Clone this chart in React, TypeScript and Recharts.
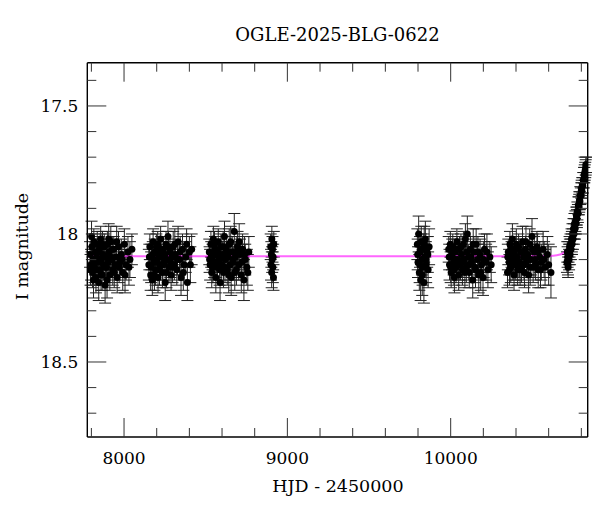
import React from 'react';
import { ComposedChart, Scatter, Line, XAxis, YAxis, ErrorBar } from 'recharts';

// OGLE photometry, one array per observing season: [HJD - 2450000, I mag, error]
const SEASON_2017 = [
  [7792, 18.08, 0.05], [7798, 18.12, 0.06], [7803, 18.05, 0.05], [7807, 18.15, 0.06], [7811, 18.10, 0.05],
  [7815, 18.03, 0.05], [7819, 18.13, 0.06], [7824, 18.07, 0.05], [7828, 18.17, 0.06], [7832, 18.09, 0.05],
  [7836, 18.04, 0.05], [7840, 18.11, 0.06], [7845, 18.19, 0.07], [7849, 18.06, 0.05], [7853, 18.14, 0.06],
  [7857, 18.02, 0.05], [7861, 18.10, 0.05], [7866, 18.16, 0.06], [7870, 18.08, 0.05], [7874, 18.12, 0.06],
  [7879, 18.05, 0.05], [7884, 18.20, 0.07], [7888, 18.09, 0.05], [7893, 18.13, 0.06], [7898, 18.04, 0.05],
  [7903, 18.11, 0.06], [7908, 18.07, 0.05], [7913, 18.16, 0.06], [7919, 18.03, 0.06], [7925, 18.10, 0.05],
  [7931, 18.14, 0.06], [7937, 18.06, 0.05], [7944, 18.12, 0.06], [7951, 18.09, 0.05], [7958, 18.17, 0.06],
  [7966, 18.05, 0.06], [7974, 18.11, 0.06], [7983, 18.08, 0.06], [7992, 18.15, 0.07], [8002, 18.04, 0.06],
  [8012, 18.12, 0.06], [8024, 18.07, 0.06], [8036, 18.10, 0.07], [8048, 18.06, 0.06],
  [7795, 18.14, 0.06], [7801, 18.01, 0.06], [7813, 18.18, 0.07], [7822, 18.11, 0.05], [7834, 18.14, 0.06],
  [7843, 18.07, 0.05], [7851, 18.10, 0.05], [7859, 18.16, 0.06], [7868, 18.04, 0.05], [7877, 18.09, 0.05],
  [7886, 18.13, 0.06], [7896, 18.18, 0.07], [7906, 18.02, 0.06], [7916, 18.09, 0.05], [7928, 18.06, 0.05],
  [7940, 18.15, 0.06], [7955, 18.03, 0.06], [7970, 18.13, 0.06], [7987, 18.10, 0.06], [8006, 18.16, 0.07],
  [8030, 18.13, 0.07],
];

const SEASON_2018 = [
  [8152, 18.12, 0.06], [8158, 18.05, 0.05], [8163, 18.16, 0.06], [8168, 18.09, 0.05], [8173, 18.18, 0.06],
  [8178, 18.03, 0.05], [8183, 18.11, 0.05], [8188, 18.07, 0.05], [8193, 18.14, 0.06], [8198, 18.05, 0.05],
  [8203, 18.10, 0.05], [8208, 18.17, 0.06], [8214, 18.08, 0.05], [8219, 18.12, 0.06], [8224, 18.02, 0.05],
  [8229, 18.09, 0.05], [8235, 18.15, 0.06], [8240, 18.06, 0.05], [8246, 18.11, 0.05], [8252, 18.19, 0.07],
  [8257, 18.04, 0.05], [8263, 18.10, 0.05], [8269, 18.01, 0.06], [8275, 18.13, 0.06], [8281, 18.07, 0.05],
  [8288, 18.16, 0.06], [8294, 18.09, 0.05], [8301, 18.05, 0.06], [8308, 18.12, 0.06], [8315, 18.08, 0.05],
  [8323, 18.14, 0.06], [8331, 18.03, 0.06], [8340, 18.10, 0.06], [8349, 18.17, 0.07], [8358, 18.06, 0.06],
  [8368, 18.12, 0.06], [8378, 18.09, 0.06], [8388, 18.19, 0.07], [8400, 18.07, 0.06], [8414, 18.06, 0.06],
  [8155, 18.09, 0.05], [8166, 18.13, 0.06], [8176, 18.08, 0.05], [8186, 18.16, 0.06], [8196, 18.11, 0.05],
  [8206, 18.04, 0.05], [8217, 18.14, 0.06], [8227, 18.06, 0.05], [8238, 18.12, 0.06], [8249, 18.08, 0.05],
  [8260, 18.15, 0.06], [8272, 18.05, 0.06], [8284, 18.11, 0.06], [8297, 18.13, 0.06], [8311, 18.04, 0.06],
  [8327, 18.10, 0.06], [8344, 18.07, 0.06], [8363, 18.15, 0.07], [8383, 18.04, 0.06], [8406, 18.12, 0.07],
];

const SEASON_2019 = [
  [8522, 18.07, 0.05], [8527, 18.12, 0.06], [8532, 18.04, 0.05], [8537, 18.15, 0.06], [8542, 18.09, 0.05],
  [8547, 18.02, 0.05], [8552, 18.11, 0.06], [8557, 18.06, 0.05], [8562, 18.17, 0.06], [8567, 18.08, 0.05],
  [8572, 18.13, 0.06], [8577, 18.03, 0.05], [8582, 18.10, 0.05], [8588, 18.19, 0.07], [8593, 18.05, 0.05],
  [8598, 18.12, 0.06], [8604, 18.08, 0.05], [8609, 18.15, 0.06], [8615, 18.01, 0.06], [8620, 18.10, 0.05],
  [8626, 18.06, 0.05], [8632, 18.14, 0.06], [8638, 18.09, 0.05], [8644, 18.04, 0.06], [8650, 18.12, 0.06],
  [8656, 18.17, 0.07], [8662, 18.07, 0.06], [8668, 18.11, 0.06], [8675, 17.99, 0.07], [8681, 18.09, 0.06],
  [8688, 18.14, 0.06], [8695, 18.05, 0.06], [8702, 18.12, 0.06], [8710, 18.08, 0.06], [8718, 18.16, 0.07],
  [8726, 18.06, 0.06], [8734, 18.18, 0.08], [8742, 18.10, 0.06], [8752, 18.13, 0.07], [8764, 18.07, 0.06],
  [8524, 18.10, 0.05], [8534, 18.08, 0.05], [8544, 18.13, 0.06], [8554, 18.04, 0.05], [8564, 18.11, 0.06],
  [8574, 18.07, 0.05], [8585, 18.14, 0.06], [8596, 18.09, 0.05], [8607, 18.05, 0.06], [8618, 18.13, 0.06],
  [8629, 18.08, 0.05], [8641, 18.16, 0.07], [8653, 18.03, 0.06], [8665, 18.10, 0.06], [8678, 18.15, 0.07],
  [8691, 18.07, 0.06], [8705, 18.03, 0.07], [8722, 18.11, 0.07], [8738, 18.08, 0.07], [8758, 18.15, 0.07],
];

const SEASON_2020 = [
  [8898, 18.05, 0.05], [8900, 18.12, 0.06], [8902, 18.08, 0.05], [8904, 18.15, 0.06], [8905, 18.02, 0.05],
  [8907, 18.10, 0.05], [8909, 18.06, 0.05], [8911, 18.13, 0.06], [8913, 18.09, 0.05], [8915, 18.17, 0.05],
  [8917, 18.04, 0.05],
];

const SEASON_2022 = [
  [9796, 18.04, 0.06], [9800, 18.11, 0.06], [9804, 18.00, 0.07], [9808, 18.15, 0.07], [9812, 18.07, 0.06],
  [9816, 18.18, 0.08], [9820, 18.03, 0.06], [9824, 18.10, 0.06], [9828, 18.13, 0.07], [9832, 18.06, 0.06],
  [9836, 18.19, 0.08], [9840, 18.09, 0.06], [9845, 18.02, 0.07], [9850, 18.12, 0.07], [9856, 18.07, 0.06],
  [9862, 18.14, 0.07], [9868, 18.05, 0.07],
  [9798, 18.08, 0.06], [9810, 18.12, 0.07], [9818, 18.06, 0.06], [9826, 18.16, 0.08], [9838, 18.04, 0.07],
  [9848, 18.10, 0.07], [9860, 18.08, 0.07],
];

const SEASON_2023 = [
  [9988, 18.06, 0.05], [9993, 18.12, 0.06], [9998, 18.04, 0.05], [10003, 18.15, 0.06], [10008, 18.09, 0.05],
  [10013, 18.05, 0.05], [10018, 18.11, 0.05], [10023, 18.17, 0.06], [10028, 18.07, 0.05], [10033, 18.13, 0.06],
  [10038, 18.03, 0.05], [10043, 18.10, 0.05], [10049, 18.16, 0.06], [10054, 18.06, 0.05], [10060, 18.12, 0.06],
  [10066, 18.08, 0.05], [10072, 18.14, 0.06], [10078, 18.04, 0.05], [10084, 18.10, 0.05], [10090, 18.02, 0.06],
  [10096, 18.13, 0.06], [10102, 18.00, 0.07], [10108, 18.09, 0.05], [10114, 18.15, 0.06], [10121, 18.06, 0.05],
  [10128, 18.11, 0.06], [10135, 18.18, 0.07], [10142, 18.07, 0.06], [10149, 18.13, 0.06], [10156, 18.04, 0.06],
  [10164, 18.10, 0.06], [10172, 18.16, 0.07], [10180, 18.08, 0.06], [10189, 18.12, 0.06], [10198, 18.17, 0.07],
  [10207, 18.06, 0.06], [10217, 18.11, 0.07], [10228, 18.14, 0.07], [10240, 18.09, 0.06],
  [9991, 18.09, 0.05], [10000, 18.13, 0.06], [10010, 18.07, 0.05], [10020, 18.14, 0.06], [10030, 18.10, 0.05],
  [10040, 18.06, 0.05], [10051, 18.12, 0.06], [10063, 18.05, 0.05], [10075, 18.11, 0.06], [10087, 18.15, 0.06],
  [10099, 18.07, 0.05], [10111, 18.12, 0.06], [10124, 18.09, 0.06], [10138, 18.04, 0.06], [10152, 18.14, 0.07],
  [10167, 18.07, 0.06], [10184, 18.15, 0.07], [10202, 18.10, 0.07], [10222, 18.07, 0.07], [10248, 18.12, 0.07],
];

const SEASON_2024 = [
  [10348, 18.15, 0.06], [10353, 18.07, 0.05], [10358, 18.11, 0.05], [10363, 18.04, 0.05], [10368, 18.13, 0.06],
  [10373, 18.08, 0.05], [10378, 18.02, 0.06], [10383, 18.10, 0.05], [10388, 18.16, 0.06], [10394, 18.06, 0.05],
  [10399, 18.12, 0.06], [10405, 18.09, 0.05], [10410, 18.14, 0.06], [10416, 18.05, 0.05], [10422, 18.11, 0.06],
  [10428, 18.07, 0.05], [10434, 18.13, 0.06], [10440, 18.03, 0.06], [10446, 18.09, 0.05], [10452, 18.15, 0.06],
  [10458, 18.06, 0.05], [10464, 18.11, 0.06], [10471, 18.08, 0.05], [10477, 18.16, 0.07], [10484, 18.04, 0.06],
  [10491, 18.10, 0.06], [10498, 18.01, 0.07], [10505, 18.13, 0.06], [10512, 18.07, 0.06], [10520, 18.12, 0.06],
  [10528, 18.05, 0.06], [10536, 18.14, 0.07], [10545, 18.09, 0.06], [10555, 18.11, 0.07], [10566, 18.06, 0.07],
  [10578, 18.13, 0.07], [10592, 18.08, 0.07], [10614, 18.15, 0.10],
  [10350, 18.09, 0.05], [10360, 18.14, 0.06], [10370, 18.06, 0.05], [10381, 18.12, 0.06], [10391, 18.08, 0.05],
  [10402, 18.04, 0.06], [10413, 18.11, 0.06], [10425, 18.14, 0.06], [10437, 18.07, 0.05], [10449, 18.12, 0.06],
  [10461, 18.03, 0.06], [10474, 18.10, 0.06], [10487, 18.13, 0.07], [10501, 18.06, 0.06], [10516, 18.10, 0.07],
  [10532, 18.07, 0.07], [10550, 18.14, 0.07], [10572, 18.10, 0.07], [10600, 18.12, 0.08],
];

const SEASON_2025 = [
  [10712, 18.11, 0.04], [10716, 18.09, 0.04], [10719, 18.13, 0.04], [10722, 18.07, 0.04], [10725, 18.10, 0.04],
  [10728, 18.05, 0.04], [10731, 18.08, 0.04], [10734, 18.04, 0.04], [10737, 18.06, 0.04], [10740, 18.02, 0.04],
  [10743, 18.04, 0.04], [10746, 18.00, 0.04], [10749, 18.02, 0.04], [10752, 17.98, 0.04], [10755, 18.00, 0.04],
  [10758, 17.96, 0.04], [10761, 17.98, 0.04], [10764, 17.95, 0.04], [10767, 17.96, 0.04], [10770, 17.93, 0.035],
  [10773, 17.94, 0.035], [10776, 17.91, 0.035], [10779, 17.92, 0.035], [10782, 17.89, 0.035], [10785, 17.89, 0.035],
  [10788, 17.87, 0.035], [10791, 17.87, 0.035], [10794, 17.85, 0.035], [10797, 17.85, 0.03], [10800, 17.83, 0.03],
  [10803, 17.83, 0.03], [10806, 17.81, 0.03], [10809, 17.81, 0.03], [10812, 17.79, 0.03], [10815, 17.79, 0.03],
  [10818, 17.77, 0.03], [10821, 17.76, 0.03], [10824, 17.75, 0.03], [10827, 17.74, 0.03], [10830, 17.73, 0.03],
  [10714, 18.07, 0.04], [10718, 18.12, 0.04], [10724, 18.08, 0.04], [10730, 18.06, 0.04], [10742, 18.03, 0.04],
  [10757, 17.98, 0.04], [10772, 17.93, 0.035], [10787, 17.88, 0.035], [10802, 17.82, 0.03], [10817, 17.77, 0.03],
  [10828, 17.73, 0.03],
];

// microlensing model: [HJD - 2450000, I mag]
const MODEL_CURVE = [
  [7775, 18.087], [9000, 18.087], [10000, 18.087], [10500, 18.087], [10600, 18.086], [10650, 18.083],
  [10680, 18.078], [10700, 18.068], [10720, 18.054], [10740, 18.030], [10760, 17.988], [10780, 17.918],
  [10800, 17.838], [10815, 17.778], [10825, 17.740], [10832, 17.722], [10839, 17.720],
];

const X_TICKS = [7800, 8000, 8200, 8400, 8600, 8800, 9000, 9200, 9400, 9600, 9800, 10000, 10200, 10400, 10600, 10800];
const Y_TICKS = [17.4, 17.5, 17.6, 17.7, 17.8, 17.9, 18, 18.1, 18.2, 18.3, 18.4, 18.5, 18.6, 18.7];

const FONT = '"DejaVu Serif", serif';
const W = 592;
const H = 496;

const points = [
  ...SEASON_2017, ...SEASON_2018, ...SEASON_2019, ...SEASON_2020,
  ...SEASON_2022, ...SEASON_2023, ...SEASON_2024, ...SEASON_2025,
].map(([hjd, mag, err]) => ({ hjd, mag, err }));

const model = MODEL_CURVE.map(([hjd, mag]) => ({ hjd, mag }));

const isMajorX = (v: number) => v % 1000 === 0;
const isMajorY = (v: number) => Math.abs(v * 2 - Math.round(v * 2)) < 1e-6;

const BottomTick = ({ x, y, payload }: any) => {
  const major = isMajorX(payload.value);
  return (
    <g>
      <line x1={x} x2={x} y1={y} y2={y - (major ? 19 : 9)} stroke="#333" strokeWidth={1} />
      {major && (
        <text x={x} y={y + 27} textAnchor="middle" fontFamily={FONT} fontSize={17} fill="#000">
          {payload.value}
        </text>
      )}
    </g>
  );
};

const TopTick = ({ x, y, payload }: any) => {
  const major = isMajorX(payload.value);
  return <line x1={x} x2={x} y1={y} y2={y + (major ? 19 : 9)} stroke="#333" strokeWidth={1} />;
};

const LeftTick = ({ x, y, payload }: any) => {
  const major = isMajorY(payload.value);
  return (
    <g>
      <line x1={x} x2={x + (major ? 19 : 9)} y1={y} y2={y} stroke="#333" strokeWidth={1} />
      {major && (
        <text x={x - 9} y={y + 6} textAnchor="end" fontFamily={FONT} fontSize={17} fill="#000">
          {payload.value}
        </text>
      )}
    </g>
  );
};

const RightTick = ({ x, y, payload }: any) => {
  const major = isMajorY(payload.value);
  return <line x1={x} x2={x - (major ? 19 : 9)} y1={y} y2={y} stroke="#333" strokeWidth={1} />;
};

const Dot = (props: any) => <circle cx={props.cx} cy={props.cy} r={3.5} fill="#000" />;

export default function App() {
  const axisLine = { stroke: '#000', strokeWidth: 1.4 };
  return (
    <div style={{ position: 'relative', width: W, height: H }}>
      <ComposedChart width={W} height={H} margin={{ top: 53.7, right: 11.3, bottom: 66, left: 78.3 }}>
        <XAxis
          xAxisId="b"
          type="number"
          dataKey="hjd"
          domain={[7775, 10839]}
          allowDataOverflow
          ticks={X_TICKS}
          interval={0}
          height={1}
          tickSize={0}
          tickMargin={0}
          tickLine={false}
          axisLine={axisLine}
          tick={<BottomTick />}
        />
        <XAxis
          xAxisId="t"
          orientation="top"
          type="number"
          dataKey="hjd"
          domain={[7775, 10839]}
          allowDataOverflow
          ticks={X_TICKS}
          interval={0}
          height={1}
          tickSize={0}
          tickMargin={0}
          tickLine={false}
          axisLine={axisLine}
          tick={<TopTick />}
        />
        <YAxis
          yAxisId="l"
          type="number"
          dataKey="mag"
          reversed
          domain={[17.331, 18.793]}
          allowDataOverflow
          ticks={Y_TICKS}
          interval={0}
          width={1}
          tickSize={0}
          tickMargin={0}
          tickLine={false}
          axisLine={axisLine}
          tick={<LeftTick />}
        />
        <YAxis
          yAxisId="r"
          orientation="right"
          type="number"
          dataKey="mag"
          reversed
          domain={[17.331, 18.793]}
          allowDataOverflow
          ticks={Y_TICKS}
          interval={0}
          width={1}
          tickSize={0}
          tickMargin={0}
          tickLine={false}
          axisLine={axisLine}
          tick={<RightTick />}
        />
        <Scatter xAxisId="b" yAxisId="l" data={points} dataKey="mag" shape={<Dot />} isAnimationActive={false}>
          <ErrorBar dataKey="err" direction="y" width={6} stroke="#222" strokeWidth={1} isAnimationActive={false} />
        </Scatter>
        <Scatter xAxisId="t" yAxisId="r" data={[]} dataKey="mag" isAnimationActive={false} />
        <Line
          xAxisId="b"
          yAxisId="l"
          data={model}
          dataKey="mag"
          type="monotone"
          stroke="#ff00ff"
          strokeOpacity={0.6}
          strokeWidth={2}
          dot={false}
          activeDot={false}
          isAnimationActive={false}
        />
      </ComposedChart>
      <svg width={W} height={H} style={{ position: 'absolute', left: 0, top: 0, pointerEvents: 'none' }}>
        <text x={329.5} y={32.7} textAnchor="middle" fontFamily={FONT} fontSize={18} fill="#000">
          OGLE-2025-BLG-0622
        </text>
        <text x={330} y={483.5} textAnchor="middle" fontFamily={FONT} fontSize={17.5} fill="#000">
          HJD - 2450000
        </text>
        <text
          x={20.3}
          y={238.5}
          textAnchor="middle"
          transform="rotate(-90 20.3 238.5)"
          fontFamily={FONT}
          fontSize={17.5}
          fill="#000"
        >
          I magnitude
        </text>
      </svg>
    </div>
  );
}
